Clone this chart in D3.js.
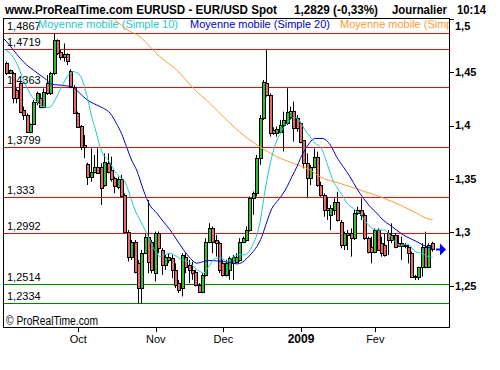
<!DOCTYPE html>
<html>
<head>
<meta charset="utf-8">
<script src="https://cdn.jsdelivr.net/npm/d3@7"></script>
<style>
  body { margin: 0; background: #fff; }
  svg { display: block; }
  text { font-family: Arial, "Liberation Sans", sans-serif; }
</style>
</head>
<body>
<svg id="chart" width="500" height="370"></svg>
<script>
// EUR/USD daily, Sep 2008 -> Feb 2009
const opens = [
  1.4588,1.4494,1.4488,1.4332,1.4395,1.4145,1.4098,1.3942,1.4011,1.4223,
  1.4254,1.4176,1.4395,1.4301,1.4488,1.4800,1.4691,1.4638,1.4669,1.4513,
  1.4363,1.4120,1.3995,1.3818,1.3640,1.3521,1.3568,1.3615,1.3615,1.3443,
  1.3646,1.3584,1.3506,1.3428,1.3496,1.3350,1.3006,1.2772,1.2913,1.2710,
  1.2476,1.2810,1.2959,
  1.2913,1.2617,1.2991,1.2835,1.2695,1.2742,1.2757,1.2648,1.2523,1.2477,
  1.2773,1.2695,1.2648,1.2632,1.2508,1.2445,1.2601,1.2913,1.3038,1.2929,
  1.2898,1.2717,1.2601,1.2648,1.2717,1.2726,1.2742,1.2913,1.2929,1.3023,
  1.3319,1.3372,1.3693,1.4068,1.4402,1.4286,1.3959,1.3927,1.3943,1.4005,
  1.4021,1.4077,1.4140,1.4068,
  1.4020,1.3864,1.3645,1.3505,1.3614,1.3708,1.3443,1.3349,1.3224,1.3162,
  1.3209,1.3287,1.3099,1.2881,1.2990,1.2990,1.2943,1.3184,1.3209,1.3162,
  1.2943,1.2865,1.2819,1.3021,1.2897,1.2881,1.2990,1.2928,1.2975,1.2897,
  1.2897,1.2870,1.2865,1.2803,1.2585,1.2585,1.2678,1.2865,1.2678,1.2897
];
const highs = [
  1.4598,1.4525,1.4504,1.4348,1.4410,1.4176,1.4114,1.4020,1.4239,1.4317,
  1.4301,1.4348,1.4473,1.4504,1.4866,1.4807,1.4707,1.4769,1.4676,1.4526,
  1.4379,1.4130,1.4005,1.3911,1.3652,1.3786,1.3724,1.3786,1.3646,1.3739,
  1.3739,1.3708,1.3521,1.3521,1.3537,1.3365,1.3022,1.2928,1.2928,1.2741,
  1.2835,1.2985,1.3302,
  1.2929,1.3007,1.3007,1.2851,1.2789,1.2804,1.2789,1.2710,1.2555,1.2804,
  1.2804,1.2742,1.2726,1.2648,1.2523,1.2617,1.2945,1.3085,1.3054,1.2976,
  1.2913,1.2742,1.2742,1.2773,1.2789,1.2804,1.2945,1.2960,1.3054,1.3335,
  1.3382,1.3725,1.4099,1.4427,1.4707,1.4302,1.3983,1.3990,1.4052,1.4130,
  1.4349,1.4177,1.4224,1.4099,
  1.4035,1.3864,1.3739,1.3630,1.3786,1.3755,1.3474,1.3365,1.3333,1.3255,
  1.3318,1.3380,1.3115,1.3006,1.3021,1.3037,1.3209,1.3240,1.3318,1.3178,
  1.2959,1.2959,1.3037,1.3037,1.2959,1.2990,1.3021,1.3084,1.2990,1.2975,
  1.2959,1.2900,1.2881,1.2819,1.2600,1.2678,1.2897,1.3006,1.2897,1.2912
];
const lows = [
  1.4473,1.4485,1.4208,1.4208,1.4114,1.4052,1.3933,1.3927,1.4005,1.4192,
  1.4161,1.4161,1.4286,1.4286,1.4473,1.4660,1.4613,1.4598,1.4566,1.4348,
  1.4114,1.3983,1.3771,1.3693,1.3443,1.3474,1.3552,1.3552,1.3256,1.3427,
  1.3552,1.3474,1.3365,1.3403,1.3330,1.3006,1.2726,1.2741,1.2616,1.2335,
  1.2335,1.2804,1.2616,
  1.2617,1.2539,1.2804,1.2601,1.2648,1.2710,1.2570,1.2477,1.2430,1.2399,
  1.2617,1.2523,1.2555,1.2492,1.2430,1.2430,1.2586,1.2898,1.2804,1.2773,
  1.2617,1.2586,1.2586,1.2555,1.2555,1.2710,1.2726,1.2898,1.2913,1.3007,
  1.3163,1.3335,1.3631,1.4052,1.4270,1.3896,1.3912,1.3896,1.3927,1.3756,
  1.4005,1.4052,1.3849,1.3943,
  1.3833,1.3599,1.3318,1.3443,1.3599,1.3427,1.3333,1.3146,1.3115,1.3021,
  1.3162,1.3099,1.2850,1.2834,1.2834,1.2772,1.2928,1.3162,1.3115,1.2928,
  1.2803,1.2709,1.2803,1.2850,1.2772,1.2772,1.2787,1.2897,1.2850,1.2865,
  1.2741,1.2850,1.2709,1.2585,1.2553,1.2553,1.2585,1.2663,1.2663,1.2819
];
const closes = [
  1.4488,1.4520,1.4254,1.4254,1.4130,1.4098,1.3942,1.4011,1.4223,1.4301,
  1.4170,1.4317,1.4301,1.4488,1.4800,1.4682,1.4644,1.4669,1.4607,1.4363,
  1.4120,1.3989,1.3796,1.3796,1.3521,1.3568,1.3608,1.3558,1.3412,1.3662,
  1.3568,1.3499,1.3434,1.3496,1.3343,1.3006,1.2772,1.2913,1.2632,1.2476,
  1.2810,1.2960,1.2725,
  1.2648,1.2991,1.2851,1.2695,1.2767,1.2773,1.2648,1.2508,1.2461,1.2789,
  1.2679,1.2648,1.2617,1.2508,1.2445,1.2601,1.2913,1.3038,1.2913,1.2898,
  1.2648,1.2601,1.2717,1.2757,1.2773,1.2773,1.2913,1.2945,1.3023,1.3319,
  1.3372,1.3693,1.4068,1.4411,1.4286,1.3927,1.3927,1.3965,1.4005,1.4052,
  1.4130,1.4140,1.3974,1.3974,
  1.3848,1.3645,1.3505,1.3614,1.3702,1.3443,1.3349,1.3209,1.3209,1.3224,
  1.3287,1.3115,1.2881,1.2990,1.2975,1.2943,1.3184,1.3209,1.3162,1.2943,
  1.2819,1.2813,1.3021,1.2834,1.2803,1.2787,1.2928,1.2975,1.2865,1.2870,
  1.2870,1.2885,1.2803,1.2585,1.2592,1.2678,1.2865,1.2678,1.2881,1.2840
];

// moving averages, [candle index, value]
const ma10 = [
  [-1.7,1.4723],[0.8,1.4676],[2.8,1.4582],[4.8,1.4426],[6.7,1.4301],[8.7,1.4223],
  [10.6,1.4176],[12.6,1.4170],[13.6,1.4208],[15.1,1.4301],[16.6,1.4395],[18.1,1.4473],
  [19.5,1.4504],[21.0,1.4489],[22.0,1.4442],[23.0,1.4348],[24.0,1.4223],[25.0,1.4082],
  [26.0,1.3974],[27.5,1.3801],[28.5,1.3724],[29.5,1.3693],[30.5,1.3646],[31.9,1.3567],
  [33.3,1.3521],[34.8,1.3474],[35.8,1.3396],[36.8,1.3302],[37.8,1.3209],[39.3,1.3115],
  [40.8,1.3022],[42.3,1.2920],[43.3,1.2851],[44.3,1.2804],[45.2,1.2773],[46.7,1.2789],
  [48.2,1.2804],[50.2,1.2773],[51.7,1.2742],[53.2,1.2726],[54.2,1.2711],[55.6,1.2664],
  [57.1,1.2633],[58.1,1.2617],[59.0,1.2648],[60.0,1.2695],[61.0,1.2742],[62.0,1.2757],
  [63.5,1.2757],[65.0,1.2726],[66.5,1.2757],[68.5,1.2789],[70.5,1.2789],[71.9,1.2835],
  [72.9,1.2898],[73.9,1.2976],[74.9,1.3101],[75.9,1.3303],[76.9,1.3491],[77.9,1.3647],
  [78.9,1.3771],[79.9,1.3865],[80.9,1.3927],[81.9,1.3984],[83.4,1.4037],[84.8,1.4077],
  [85.8,1.4068],[86.8,1.4030],[88.2,1.3957],[89.7,1.3895],[91.2,1.3833],[92.7,1.3801],
  [93.7,1.3739],[94.7,1.3645],[95.7,1.3552],[96.6,1.3474],[97.5,1.3427],[98.5,1.3380],
  [99.5,1.3333],[100.5,1.3277],[101.5,1.3246],[102.5,1.3224],[103.5,1.3193],[104.5,1.3177],
  [105.5,1.3131],[106.5,1.3084],[107.5,1.3053],[108.5,1.3028],[109.8,1.3021],[111.3,1.3021],
  [112.3,1.3006],[113.3,1.2975],[114.3,1.2928],[115.3,1.2897],[116.3,1.2872],[117.3,1.2881],
  [118.3,1.2890],[119.3,1.2872],[120.3,1.2834],[121.7,1.2809],[123.1,1.2800],[124.2,1.2778],
  [126,1.2766]
];
const ma20 = [
  [-2.2,1.4847],[-0.2,1.4785],[1.8,1.4707],[3.8,1.4629],[5.8,1.4566],[7.7,1.4520],
  [9.7,1.4473],[11.7,1.4426],[13.1,1.4385],[15.6,1.4379],[17.6,1.4370],[19.1,1.4364],
  [20.5,1.4332],[22.5,1.4270],[24.5,1.4223],[26.5,1.4192],[28.5,1.4161],[30.5,1.4114],
  [32.3,1.4020],[33.8,1.3927],[35.3,1.3802],[36.8,1.3677],[38.3,1.3584],[40.3,1.3396],
  [42.3,1.3250],[44.3,1.3179],[46.2,1.3101],[48.2,1.3023],[50.2,1.2929],[52.2,1.2836],
  [54.2,1.2757],[56.1,1.2711],[58.1,1.2726],[60.0,1.2736],[62.0,1.2732],[64.0,1.2726],
  [66.0,1.2717],[68.0,1.2704],[69.5,1.2717],[71.0,1.2757],[72.4,1.2804],[73.9,1.2866],
  [75.4,1.2960],[76.9,1.3101],[78.4,1.3225],[79.9,1.3288],[81.4,1.3350],[82.9,1.3428],
  [84.3,1.3522],[85.8,1.3615],[86.8,1.3690],[88.7,1.3801],[91.2,1.3879],[93.2,1.3879],
  [95.7,1.3817],[97.5,1.3708],[99.5,1.3614],[101.5,1.3521],[103.5,1.3411],[105.5,1.3318],
  [107.5,1.3240],[109.5,1.3177],[111.3,1.3115],[113.3,1.3068],[115.3,1.3021],[117.3,1.2975],
  [119.3,1.2943],[121.3,1.2912],[123.1,1.2881],[126,1.2845]
];
const maLong = [
  [30.0,1.5040],[31.4,1.5004],[35.7,1.4894],[39.3,1.4831],[42.3,1.4738],[45.2,1.4644],
  [50.2,1.4520],[55.1,1.4348],[60.0,1.4208],[65.0,1.4051],[69.9,1.3911],[74.8,1.3801],
  [79.8,1.3708],[84.7,1.3646],[89.7,1.3583],[92.6,1.3521],[98.5,1.3459],[104.5,1.3396],
  [110.4,1.3333],[116.3,1.3256],[121.3,1.3178],[125.2,1.3122],[126,1.3122]
];

const redLevels = [1.4867, 1.4719, 1.4363, 1.3799, 1.333, 1.2992];
const greenLevels = [1.2514, 1.2334];
const yTicks = [1.25, 1.3, 1.35, 1.4, 1.45, 1.5];
const monthTicks = [
  { label: "Oct", at: 21 }, { label: "Nov", at: 44 }, { label: "Dec", at: 64 },
  { label: "2009", at: 87, bold: true }, { label: "Fev", at: 109 }
];
// the third legend entry is cut by the plot frame in the original
const legend = [
  { text: "Moyenne mobile (Simple 10)", color: "#1ec8c8", x: 38 },
  { text: "Moyenne mobile (Simple 20)", color: "#0000c8", x: 190 },
  { text: "Moyenne mobile (Simp", color: "#ff9a33", x: 340 }
];

const svg = d3.select("#chart");
const W = 500, H = 370;
const P = { left: 3, right: 449, top: 18, bottom: 327 };

const fr = d3.formatLocale({ decimal: ",", thousands: ".", grouping: [3], currency: ["", ""] });
const fmtTick = fr.format(".2~f");
const fmtLevel = fr.format(".4~f");

const x = d3.scaleLinear().domain([0, opens.length - 1]).range([7.3, 432.7]);
const y = d3.scaleLinear().domain([1.2113, 1.5007]).range([P.bottom, P.top]);

svg.append("rect").attr("width", W).attr("height", H).attr("fill", "#fff");

svg.append("defs").append("clipPath").attr("id", "plot")
  .append("rect").attr("x", P.left).attr("y", P.top)
  .attr("width", P.right - P.left).attr("height", P.bottom - P.top);

// title
const title = [
  { t: "www.ProRealTime.com EURUSD - EUR/USD Spot", x: 5, w: 272 },
  { t: "1,2829 (-0,33%)", x: 294, w: 84 },
  { t: "Journalier", x: 392, w: 55 },
  { t: "10:14", x: 457, w: 29 }
];
svg.append("g").selectAll("text").data(title).join("text")
  .attr("x", d => d.x).attr("y", 14)
  .attr("textLength", d => d.w).attr("lengthAdjust", "spacingAndGlyphs")
  .style("font-size", "12px").style("font-weight", "bold").attr("fill", "#000")
  .text(d => d.t);

const g = svg.append("g").attr("clip-path", "url(#plot)");

// horizontal levels
const levels = redLevels.map(v => ({ v, c: "#ff0000" }))
  .concat(greenLevels.map(v => ({ v, c: "#008000" })));
g.selectAll("rect.lvl").data(levels).join("rect").attr("class", "lvl")
  .attr("x", P.left).attr("width", P.right - P.left)
  .attr("y", d => Math.round(y(d.v))).attr("height", 1)
  .attr("fill", d => d.c);
g.selectAll("text.lvl").data(levels).join("text").attr("class", "lvl")
  .attr("x", 7).attr("y", d => Math.round(y(d.v)) - 3)
  .style("font-size", "11px").attr("fill", "#000")
  .text(d => fmtLevel(d.v));

// legend row
g.selectAll("text.leg").data(legend).join("text").attr("class", "leg")
  .attr("x", d => d.x).attr("y", 28)
  .style("font-size", "11px").attr("fill", d => d.color)
  .text(d => d.text);

// candles
const candles = opens.map((o, i) => ({ i, o, h: highs[i], l: lows[i], c: closes[i] }));
const cg = g.append("g");
cg.selectAll("line").data(candles).join("line")
  .attr("x1", d => Math.round(x(d.i)) - 0.5).attr("x2", d => Math.round(x(d.i)) - 0.5)
  .attr("y1", d => y(d.h)).attr("y2", d => y(d.l))
  .attr("stroke", "#000").attr("stroke-width", 1);
cg.selectAll("rect").data(candles).join("rect")
  .attr("x", d => Math.round(x(d.i)) - 1.5).attr("width", 3)
  .attr("y", d => Math.round(y(Math.max(d.o, d.c))) + 0.5)
  .attr("height", d => Math.max(1, Math.round(y(Math.min(d.o, d.c))) - Math.round(y(Math.max(d.o, d.c)))))
  .attr("fill", d => d.c >= d.o ? "#2fc02f" : "#e46a6a")
  .attr("stroke", "#000").attr("stroke-width", 1);

// moving averages
const line = d3.line().x(d => x(d[0])).y(d => y(d[1])).curve(d3.curveMonotoneX);
[[maLong, "#ff9a33"], [ma20, "#0000c8"], [ma10, "#1ec8c8"]].forEach(([data, col]) => {
  g.append("path").datum(data).attr("d", line)
    .attr("fill", "none").attr("stroke", col).attr("stroke-width", 1);
});

// frame
svg.append("rect").attr("x", P.left + 0.5).attr("y", P.top + 0.5)
  .attr("width", P.right - P.left).attr("height", P.bottom - P.top)
  .attr("fill", "none").attr("stroke", "#000");

// right price axis
const ya = svg.append("g");
ya.selectAll("line").data(yTicks).join("line")
  .attr("x1", P.right + 0.5).attr("x2", P.right + 5)
  .attr("y1", d => Math.round(y(d)) + 0.5).attr("y2", d => Math.round(y(d)) + 0.5)
  .attr("stroke", "#000");
ya.selectAll("text").data(yTicks).join("text")
  .attr("x", 455).attr("y", d => Math.max(y(d), 26)).attr("dy", "0.36em")
  .style("font-size", "11px").style("font-weight", "bold")
  .text(d => fmtTick(d));

// bottom month axis
const xa = svg.append("g");
xa.selectAll("line").data(monthTicks).join("line")
  .attr("x1", d => Math.round(x(d.at)) + 0.5).attr("x2", d => Math.round(x(d.at)) + 0.5)
  .attr("y1", P.bottom).attr("y2", P.bottom + 5).attr("stroke", "#000");
xa.selectAll("text").data(monthTicks).join("text")
  .attr("x", d => x(d.at)).attr("y", 343).attr("text-anchor", "middle")
  .style("font-size", d => d.bold ? "12px" : "11px")
  .style("font-weight", d => d.bold ? "bold" : "normal")
  .text(d => d.label);

// copyright
svg.append("text").attr("x", 6).attr("y", 325)
  .attr("textLength", 92).attr("lengthAdjust", "spacingAndGlyphs")
  .style("font-size", "12px").text("© ProRealTime.com");

// last price marker
const last = closes[closes.length - 1];
const ly = y(last);
svg.append("path")
  .attr("d", `M436,${ly - 1}h4v-5l6,6l-6,6v-5h-4z`)
  .attr("fill", "#0000ff");
</script>
</body>
</html>
